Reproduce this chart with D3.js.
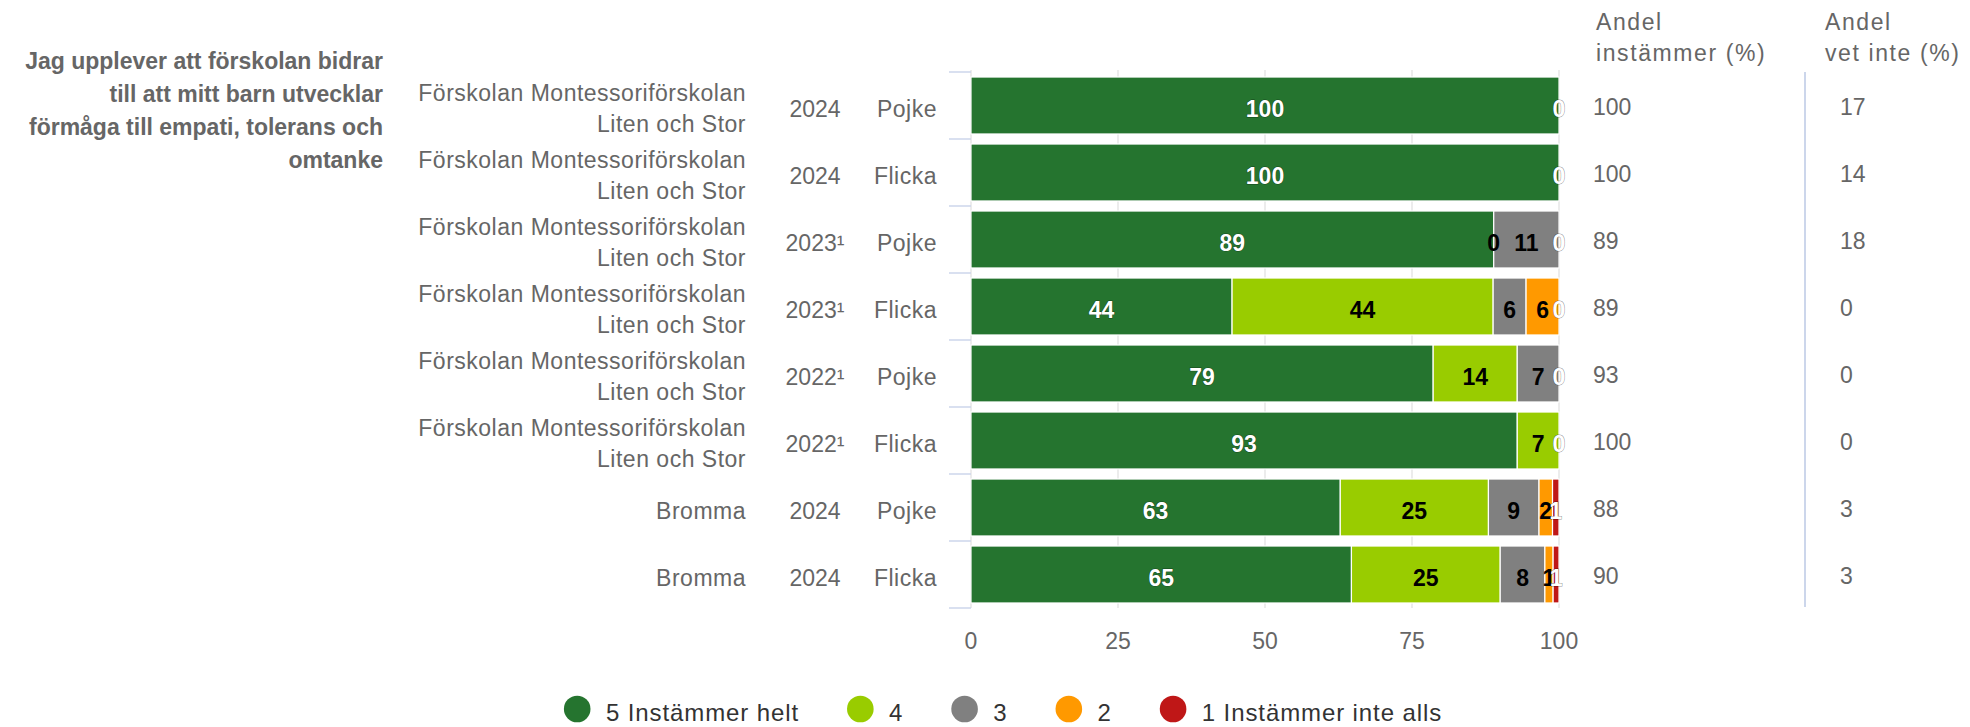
<!DOCTYPE html>
<html>
<head>
<meta charset="utf-8">
<script src="https://cdn.jsdelivr.net/npm/d3@7"></script>
<style>
  html, body { margin: 0; padding: 0; background: #ffffff; }
  svg { display: block; font-family: "Liberation Sans", Arial, Helvetica, sans-serif; }
</style>
</head>
<body>
<svg id="chart" width="1970" height="727"></svg>
<script>
// ---------- data ----------
const questionLines = ["Jag upplever att förskolan bidrar", "till att mitt barn utvecklar", "förmåga till empati, tolerans och", "omtanke"];
const schoolLabels = [
  ["Förskolan Montessoriförskolan", "Liten och Stor"],
  ["Förskolan Montessoriförskolan", "Liten och Stor"],
  ["Förskolan Montessoriförskolan", "Liten och Stor"],
  ["Förskolan Montessoriförskolan", "Liten och Stor"],
  ["Förskolan Montessoriförskolan", "Liten och Stor"],
  ["Förskolan Montessoriförskolan", "Liten och Stor"],
  ["Bromma"],
  ["Bromma"]
];
const years = ["2024", "2024", "2023¹", "2023¹", "2022¹", "2022¹", "2024", "2024"];
const genders = ["Pojke", "Flicka", "Pojke", "Flicka", "Pojke", "Flicka", "Pojke", "Flicka"];
const seriesNames = ["5 Instämmer helt", "4", "3", "2", "1 Instämmer inte alls"];
const seriesColors = ["#25742f", "#99cc00", "#808080", "#ff9900", "#bf1717"];
const labelColors = ["#ffffff", "#000000", "#000000", "#000000", "#ffffff"];
const s5 = [100, 100, 88.9, 44.4, 78.6, 92.9, 62.8, 64.7];
const s4 = [0, 0, 0, 44.4, 14.3, 7.1, 25.2, 25.3];
const s3 = [0, 0, 11.1, 5.6, 7.1, 0, 8.6, 7.6];
const s2 = [0, 0, 0, 5.6, 0, 0, 2.3, 1.4];
const s1 = [0, 0, 0, 0, 0, 0, 1.1, 1.0];
const andelInstammer = [100, 100, 89, 89, 93, 100, 88, 90];
const andelVetInte = [17, 14, 18, 0, 0, 0, 3, 3];
const xTicks = [0, 25, 50, 75, 100];
const headerInstammer = ["Andel", "instämmer (%)"];
const headerVetInte = ["Andel", "vet inte (%)"];

// ---------- build ----------
const seriesValues = [s5, s4, s3, s2, s1];
const rowIds = years.map((_, i) => "r" + i);
const rows = rowIds.map((id, i) => {
  const o = { id };
  seriesNames.forEach((n, k) => { o[n] = seriesValues[k][i]; });
  return o;
});
const stacked = d3.stack().keys(seriesNames)(rows);

const svg = d3.select("#chart");
const x = d3.scaleLinear().domain([0, 100]).range([971, 1559]);
const y = d3.scaleBand().domain(rowIds).range([72, 608]).paddingInner(0.15).paddingOuter(0.075);
const step = y.step();
const cy = id => y(id) + y.bandwidth() / 2;

const gray = "#666666";
const FS = 23;

// gridlines
svg.append("g").selectAll("line").data(xTicks).join("line")
  .attr("x1", d => x(d)).attr("x2", d => x(d))
  .attr("y1", 72 - 2).attr("y2", 608)
  .attr("stroke", "#e6e6e6").attr("stroke-width", 1.5);

// category tick marks
const bounds = d3.range(rowIds.length + 1).map(k => y.range()[0] + k * step);
svg.append("g").selectAll("line").data(bounds).join("line")
  .attr("x1", x(0) - 22).attr("x2", x(0))
  .attr("y1", d => d).attr("y2", d => d)
  .attr("stroke", "#ccd6eb").attr("stroke-width", 1.5);

// bars
const layers = svg.append("g").selectAll("g").data(stacked).join("g")
  .attr("fill", (d, i) => seriesColors[i]);
layers.selectAll("rect").data(d => d).join("rect")
  .attr("x", d => x(d[0]))
  .attr("width", d => Math.max(0, x(d[1]) - x(d[0])))
  .attr("y", d => y(d.data.id))
  .attr("height", y.bandwidth())
  .attr("stroke", "#ffffff").attr("stroke-width", 1.2);

// data labels
const labelData = [];
stacked.forEach((layer, k) => {
  layer.forEach((d, i) => {
    const v = d[1] - d[0];
    if (v === 0) {
      // hide a zero label when a later series has a zero at the same position
      const hidden = stacked.slice(k + 1).some(l2 => (l2[i][1] - l2[i][0]) === 0 && l2[i][0] === d[0]);
      if (hidden) return;
    }
    labelData.push({ k, id: d.data.id, mid: (d[0] + d[1]) / 2, v });
  });
});
svg.append("g").selectAll("text").data(labelData).join("text")
  .attr("x", d => x(d.mid))
  .attr("y", d => cy(d.id) + 11.5)
  .attr("text-anchor", "middle")
  .attr("font-size", FS).attr("font-weight", "bold")
  .attr("fill", d => labelColors[d.k])
  .attr("stroke", d => labelColors[d.k] === "#ffffff" ? "rgba(0,0,0,0.45)" : "none")
  .attr("stroke-width", 1)
  .attr("paint-order", "stroke")
  .text(d => Math.round(d.v));

// x axis labels
svg.append("g").selectAll("text").data(xTicks).join("text")
  .attr("x", d => x(d)).attr("y", 649)
  .attr("text-anchor", "middle").attr("font-size", FS).attr("fill", gray)
  .text(d => d);

// left category labels
const catG = svg.append("g").attr("font-size", FS).attr("fill", gray).attr("letter-spacing", 0.5);
rowIds.forEach((id, i) => {
  const c = cy(id);
  const lines = schoolLabels[i];
  const t = catG.append("text").attr("text-anchor", "end");
  if (lines.length === 1) {
    t.append("tspan").attr("x", 746).attr("y", c + 11).text(lines[0]);
  } else {
    lines.forEach((ln, j) => t.append("tspan").attr("x", 746).attr("y", c - 5 + j * 31).text(ln));
  }
  catG.append("text").attr("x", 815).attr("y", c + 11).attr("text-anchor", "middle").attr("letter-spacing", 0).text(years[i]);
  catG.append("text").attr("x", 937).attr("y", c + 11).attr("text-anchor", "end").text(genders[i]);
  catG.append("text").attr("x", 1593).attr("y", c + 9.5).attr("letter-spacing", 0).text(andelInstammer[i]);
  catG.append("text").attr("x", 1840).attr("y", c + 9.5).attr("letter-spacing", 0).text(andelVetInte[i]);
});

// question title
const qt = svg.append("text").attr("text-anchor", "end").attr("font-size", FS)
  .attr("font-weight", "bold").attr("fill", gray);
questionLines.forEach((ln, j) => qt.append("tspan").attr("x", 383).attr("y", 69 + j * 33).text(ln));

// right headers
const hG = svg.append("g").attr("font-size", FS).attr("fill", gray).attr("letter-spacing", 1.6);
[[headerInstammer, 1596], [headerVetInte, 1825]].forEach(([lines, hx]) => {
  const t = hG.append("text");
  lines.forEach((ln, j) => t.append("tspan").attr("x", hx).attr("y", 30 + j * 31).text(ln));
});

// separator line
svg.append("line").attr("x1", 1805).attr("x2", 1805).attr("y1", 72).attr("y2", 607)
  .attr("stroke", "#ccd6eb").attr("stroke-width", 2);

// legend
const legend = svg.append("g").attr("font-size", 24).attr("fill", "#333333").attr("letter-spacing", 0.9);
let cursor = 0;
seriesNames.forEach((n, k) => {
  const g = legend.append("g");
  g.append("circle").attr("cx", cursor + 13.3).attr("cy", 709).attr("r", 13.3).attr("fill", seriesColors[k]);
  const t = g.append("text").attr("x", cursor + 42).attr("y", 721).text(n);
  const w = t.node().getComputedTextLength();
  cursor += 42 + w + (k < seriesNames.length - 1 ? 48 : 0);
});
legend.attr("transform", `translate(${1003 - cursor / 2},0)`);
</script>
</body>
</html>
